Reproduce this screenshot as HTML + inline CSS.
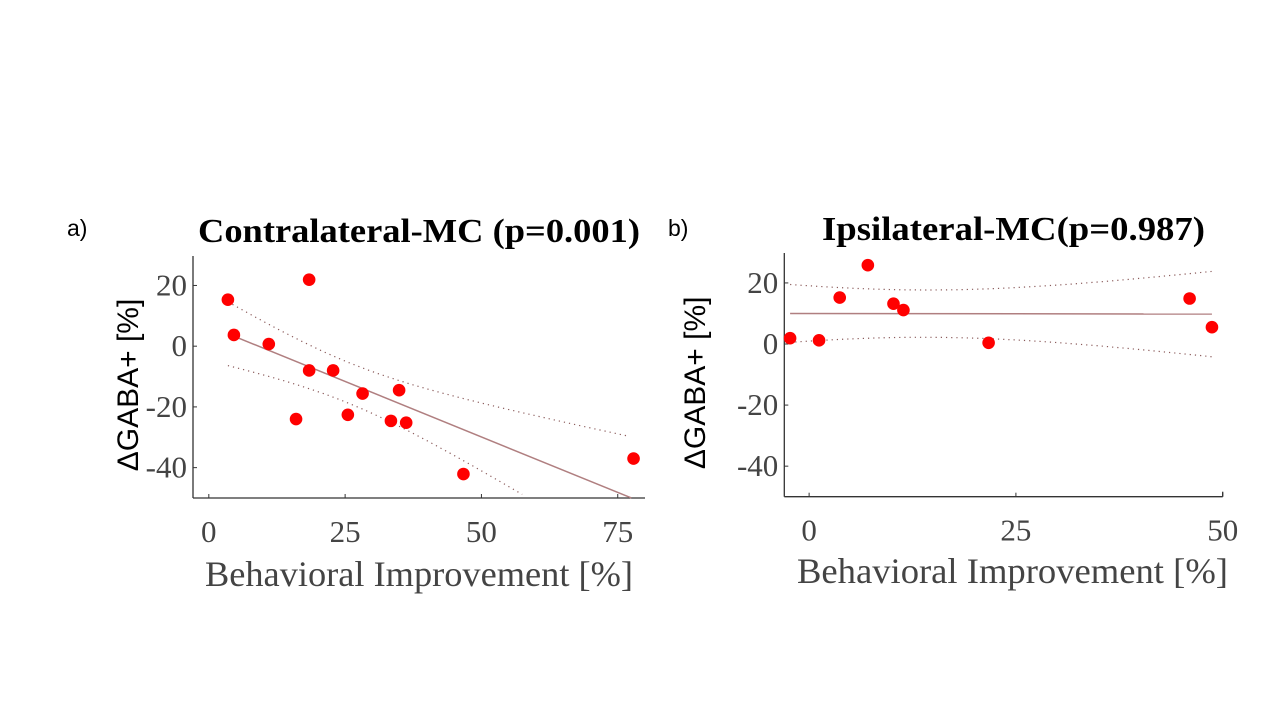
<!DOCTYPE html>
<html><head><meta charset="utf-8"><style>
html,body{margin:0;padding:0;background:#fff;}
svg{display:block;}
</style></head><body>
<svg id="fig" width="1280" height="720" viewBox="0 0 1280 720">
<text x="67" y="236" font-family="Liberation Sans, sans-serif" font-size="23" fill="#000">a)</text>
<text x="668" y="236" font-family="Liberation Sans, sans-serif" font-size="23" fill="#000">b)</text>
<text x="198" y="242" textLength="442" lengthAdjust="spacingAndGlyphs" font-family="Liberation Serif, serif" font-weight="bold" font-size="34" fill="#000">Contralateral-MC (p=0.001)</text>
<text x="822" y="240" textLength="383" lengthAdjust="spacingAndGlyphs" font-family="Liberation Serif, serif" font-weight="bold" font-size="34" fill="#000">Ipsilateral-MC(p=0.987)</text>
</svg>
<script>
// Panel A data
const aX = [18.4, 3.5, 4.6, 11.0, 18.4, 22.8, 28.2, 34.9, 16.0, 25.5, 33.4, 36.2, 46.7, 77.9];
const aY = [21.9, 15.3, 3.7, 0.7, -8.0, -8.0, -15.6, -14.5, -24.0, -22.6, -24.6, -25.2, -42.1, -37.0];
const aFit = [6.66, -0.731];
const aCI = [45, 0.134, 25.6];
const aFitRange = [4.6, 77.5];
const aCIRange = [3.5, 77.1];
const aXTicks = [0, 25, 50, 75];
const aYTicks = [20, 0, -20, -40];
// Panel B data
const bX = [-2.3, 1.2, 3.7, 7.1, 10.2, 11.4, 21.7, 46.0, 48.7];
const bY = [1.9, 1.2, 15.2, 25.8, 13.2, 11.1, 0.4, 14.9, 5.5];
const bFit = [10.0, -0.004];
const bCI = [60, 0.1125, 14];
const bFitRange = [-2.3, 48.7];
const bCIRange = [-2.3, 48.7];
const bXTicks = [0, 25, 50];
const bYTicks = [20, 0, -20, -40];

const NS = 'http://www.w3.org/2000/svg';
const svg = document.getElementById('fig');
function mk(tag, attrs, parent) {
  const e = document.createElementNS(NS, tag);
  for (const k in attrs) e.setAttribute(k, attrs[k]);
  (parent || svg).appendChild(e);
  return e;
}

function panel(p) {
  const g = mk('g', {});
  
  
  const sx = v => p.x0 + (v - p.xmin) / (p.xmax - p.xmin) * (p.x1 - p.x0);
  const sy = v => p.y1 - (v - p.ymin) / (p.ymax - p.ymin) * (p.y1 - p.y0);
  const ya = mk('line', {x1: p.x0, y1: p.y0, x2: p.x0, y2: p.y1, stroke: '#333', 'stroke-width': 1.3}, g);
  
  
  const xa = mk('line', {x1: p.x0, y1: p.y1, x2: p.x1, y2: p.y1, stroke: '#333', 'stroke-width': 1.3}, g);
  
  
  if (p.rightTick) mk('line', {x1: p.x1, y1: p.y1, x2: p.x1, y2: p.y1 - 5, stroke: '#333', 'stroke-width': 1.3}, g);
  p.xTicks.forEach(t => {
    const x = sx(t);
    mk('line', {x1: x, y1: p.y1, x2: x, y2: p.y1 - 4, stroke: '#333', 'stroke-width': 1}, g);
    const tx = mk('text', {x: x, y: p.y1 + 44, 'text-anchor': 'middle', 'font-family': 'Liberation Serif, serif', 'font-size': 31, fill: '#444'}, g);
    tx.textContent = t;
    
    
  });
  p.yTicks.forEach(t => {
    const y = sy(t);
    mk('line', {x1: p.x0, y1: y, x2: p.x0 + 4, y2: y, stroke: '#333', 'stroke-width': 1}, g);
    const tx = mk('text', {x: p.x0 - 6, y: y + 10, 'text-anchor': 'end', 'font-family': 'Liberation Serif, serif', 'font-size': 31, fill: '#444'}, g);
    tx.textContent = t;
    
    
  });
  [1, -1].forEach(sgn => {
    let pts = [];
    for (let i = 0; i <= 60; i++) {
      const xv = p.ciR[0] + (p.ciR[1] - p.ciR[0]) * i / 60;
      const f = p.fit[0] + p.fit[1] * xv;
      const h = Math.sqrt(p.ci[0] + p.ci[1] * (xv - p.ci[2]) ** 2);
      let yv = f + sgn * h;
      if (yv < p.ymin) break;
      pts.push(sx(xv).toFixed(1) + ',' + sy(yv).toFixed(1));
    }
    const pl = mk('polyline', {points: pts.join(' '), fill: 'none', stroke: '#8a5a5a', 'stroke-width': 1.2, 'stroke-dasharray': '1.2 4'}, g);
    
    
  });
  let xe = p.fitR[1], ye = p.fit[0] + p.fit[1] * xe;
  if (ye < p.ymin) { xe = (p.ymin - p.fit[0]) / p.fit[1]; ye = p.ymin; }
  const fl = mk('line', {x1: sx(p.fitR[0]), y1: sy(p.fit[0] + p.fit[1] * p.fitR[0]), x2: sx(xe), y2: sy(ye), stroke: '#b07f80', 'stroke-width': 1.5}, g);
  
  
  p.xs.forEach((xv, i) => {
    const c = mk('circle', {cx: sx(xv), cy: sy(p.ys[i]), r: 6.3, fill: '#ff0000'}, g);
    
    
  });
  const yl = mk('text', {transform: `translate(${p.ylx},${(p.y0 + p.y1) / 2 + 8}) rotate(-90)`, 'text-anchor': 'middle', 'font-family': 'Liberation Sans, DejaVu Sans, sans-serif', 'font-size': 30, fill: '#000'}, g);
  yl.textContent = 'ΔGABA+ [%]';
  
  
  const xl = mk('text', {x: p.xlx, y: p.xly, textLength: p.xlw, lengthAdjust: 'spacingAndGlyphs', 'font-family': 'Liberation Serif, serif', 'font-size': 36, fill: '#444'}, g);
  xl.textContent = 'Behavioral Improvement [%]';
  
  
}

panel({name: 'panel-a-contralateral', x0: 193, x1: 645, y0: 256, y1: 498, xmin: -2.9, xmax: 80.0, ymin: -50, ymax: 29.7,
  xs: aX, ys: aY, fit: aFit, ci: aCI, fitR: aFitRange, ciR: aCIRange, xTicks: aXTicks, yTicks: aYTicks,
  ylx: 138, xlx: 205, xlw: 428, xly: 586, rightTick: false});
panel({name: 'panel-b-ipsilateral', x0: 784.3, x1: 1222.7, y0: 253, y1: 496.7, xmin: -3.0, xmax: 50, ymin: -50, ymax: 29.8,
  xs: bX, ys: bY, fit: bFit, ci: bCI, fitR: bFitRange, ciR: bCIRange, xTicks: bXTicks, yTicks: bYTicks,
  ylx: 705, xlx: 797, xlw: 431, xly: 583, rightTick: true});
</script>
</body></html>
